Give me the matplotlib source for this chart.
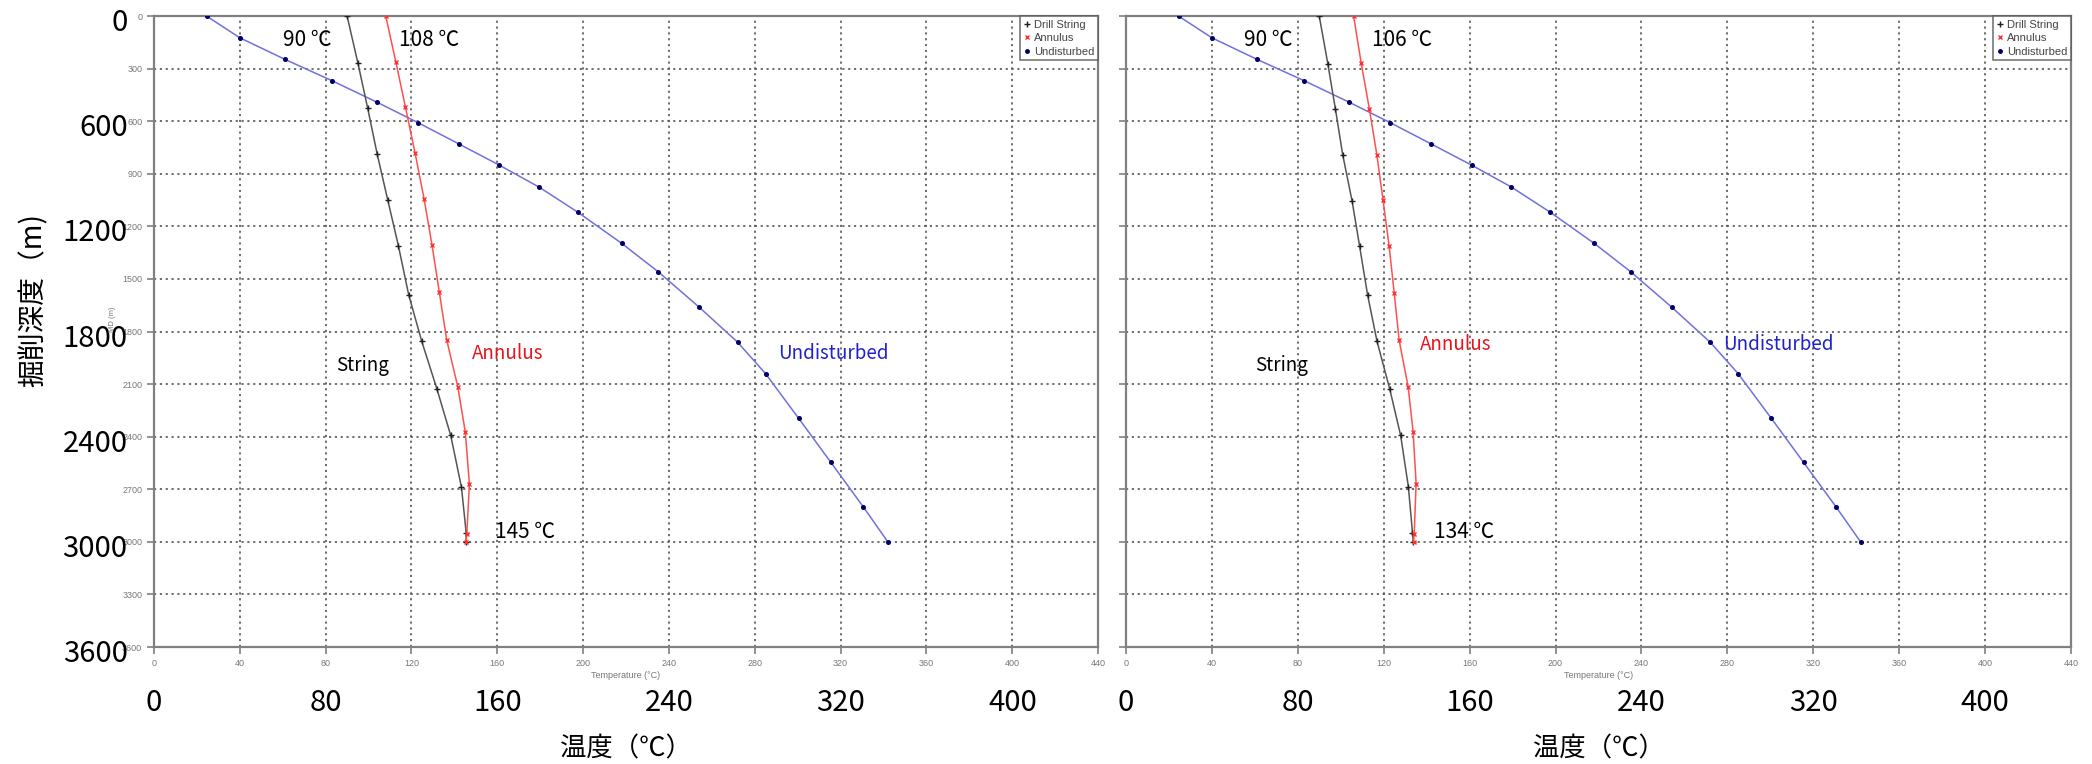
import matplotlib
matplotlib.use("Agg")
import matplotlib.pyplot as plt
from matplotlib.lines import Line2D
from matplotlib.transforms import blended_transform_factory

# Datos (profundidad en m, temperatura en grados C)
undist_depth = [0, 124, 247, 369, 492, 608, 729, 851, 976, 1119, 1297, 1459, 1660, 1861, 2040, 2296, 2547, 2799, 3000]
undist_temp = [24.5, 40, 61, 83, 104, 123, 142, 161, 179.5, 197.5, 218, 235, 254, 272, 285, 300.5, 315.5, 330.5, 342]

# Panel izquierdo
string_depth_a = [0, 266, 526, 786, 1052, 1310, 1590, 1856, 2125, 2393, 2688, 2948, 3000]
string_temp_a = [90, 95, 99.6, 104, 109, 113.9, 118.7, 124.8, 131.8, 138.3, 143.3, 145.5, 145.5]
annulus_depth_a = [0, 260, 520, 782, 1044, 1308, 1576, 1846, 2116, 2374, 2669, 2957, 3000]
annulus_temp_a = [108, 112.7, 117.2, 121.7, 125.9, 129.6, 133, 136.4, 141.6, 145.1, 147, 145.8, 145.4]

# Panel derecho
string_depth_b = [0, 273, 528, 790, 1056, 1314, 1591, 1856, 2127, 2393, 2686, 2948, 3000]
string_temp_b = [90, 94, 97.5, 100.9, 105.3, 108.8, 112.5, 116.9, 122.8, 127.9, 131.5, 133.4, 133.8]
annulus_depth_b = [0, 266, 528, 790, 1050, 1310, 1580, 1850, 2116, 2372, 2668, 2957, 3000]
annulus_temp_b = [106, 109.5, 113.3, 116.8, 119.7, 122.5, 124.9, 127.2, 131.4, 133.7, 135.1, 134.2, 133.9]

small_xticks = list(range(0, 441, 40))
small_yticks = list(range(0, 3601, 300))
big_xticks = [0, 80, 160, 240, 320, 400]
big_yticks = [0, 600, 1200, 1800, 2400, 3000, 3600]

CJK = ["Noto Sans CJK JP", "DejaVu Sans"]
SMALL = ["Liberation Sans", "DejaVu Sans"]


def draw_panel(ax, s_d, s_t, a_d, a_t, labels, left):
    ax.plot(undist_temp, undist_depth, color="#7070e0", lw=1.1, marker="o", ms=2.6,
            mfc="#000066", mec="#000066", zorder=3)
    ax.plot(s_t, s_d, color="#555555", lw=1.1, marker="+", ms=4, mec="#202020", zorder=3)
    ax.plot(a_t, a_d, color="#ff5050", lw=1.1, marker="x", ms=3, mec="#ff3030", zorder=3)

    ax.set_xlim(0, 440)
    ax.set_ylim(3600, 0)
    ax.set_xticks(small_xticks)
    ax.set_yticks(small_yticks)
    ax.grid(True, ls=(0, (1.3, 2.2)), color="#555555", lw=1.2)
    for sp in ax.spines.values():
        sp.set_color("#808080")
        sp.set_linewidth(1.6)
    ax.tick_params(direction="out", length=5, width=1.2, color="#808080",
                   labelsize=6.5, labelcolor="#777777")
    for lab in ax.get_xticklabels() + ax.get_yticklabels():
        lab.set_family(SMALL)
    if not left:
        ax.set_yticklabels([])
    ax.set_xlabel("Temperature (°C)", fontsize=6.5, color="#777777", family=SMALL, labelpad=2)

    # leyenda del programa original
    handles = [Line2D([], [], ls="none", marker="+", ms=4, color="#202020"),
               Line2D([], [], ls="none", marker="x", ms=3, color="#ff3030"),
               Line2D([], [], ls="none", marker="o", ms=2.5, color="#000066")]
    leg = ax.legend(handles, ["Drill String", "Annulus", "Undisturbed"], loc="upper right",
                    frameon=True, fancybox=False, borderaxespad=0,
                    handlelength=0.6, handletextpad=0.3, borderpad=0.35, labelspacing=0.3,
                    prop={"family": SMALL, "size": 8})
    leg.get_frame().set_edgecolor("#555555")
    leg.get_frame().set_linewidth(1.2)
    for t in leg.get_texts():
        t.set_color("#444444")

    # etiquetas grandes superpuestas
    tx = blended_transform_factory(ax.transData, ax.transAxes)
    for v in big_xticks:
        ax.text(v, -0.089, str(v), transform=tx, ha="center", va="center",
                fontsize=21, family=CJK, color="black")
    ax.text(0.5, -0.162, "温度（℃）", transform=ax.transAxes, ha="center", va="center",
            fontsize=19, family=CJK)
    if left:
        ty = blended_transform_factory(ax.transAxes, ax.transData)
        for v in big_yticks:
            ax.text(-0.028, v + 40, str(v), transform=ty, ha="right", va="center",
                    fontsize=21, family=CJK, color="black")
        ax.text(-0.044, 0.52, "MD (m)", transform=ax.transAxes, rotation=90, ha="center",
                va="center", fontsize=5.5, color="#777777", family=SMALL)

    # anotaciones
    top_s, top_a, bot, xs = labels
    ax.text(xs[0], 135, top_s, fontsize=15, family=CJK, va="center")
    ax.text(xs[1], 135, top_a, fontsize=15, family=CJK, va="center")
    ax.text(xs[2], 1995, "String", fontsize=13.5, family=CJK, va="center")
    ax.text(xs[3], xs[6], "Annulus", fontsize=13.5, family=CJK, va="center", color="#e8141c")
    ax.text(xs[4], xs[6], "Undisturbed", fontsize=13.5, family=CJK, va="center", color="#2020cc")
    ax.text(xs[5], 2945, bot, fontsize=15, family=CJK, va="center")


fig = plt.figure(figsize=(20.92, 7.64), dpi=100)
ax1 = fig.add_axes([0.0736, 0.1531, 0.4513, 0.8259])
ax2 = fig.add_axes([0.5382, 0.1531, 0.4518, 0.8259])

draw_panel(ax1, string_depth_a, string_temp_a, annulus_depth_a, annulus_temp_a,
           ("90 ℃", "108 ℃", "145 ℃", [60, 114, 85, 148, 291, 159, 1925]), True)
draw_panel(ax2, string_depth_b, string_temp_b, annulus_depth_b, annulus_temp_b,
           ("90 ℃", "106 ℃", "134 ℃", [55, 114.4, 60, 137, 278, 143.5, 1873]), False)

fig.text(0.016, 0.607, "掘削深度（m)", rotation=90, ha="center", va="center",
         fontsize=20, family=CJK)

fig.savefig("out.png", dpi=100)
